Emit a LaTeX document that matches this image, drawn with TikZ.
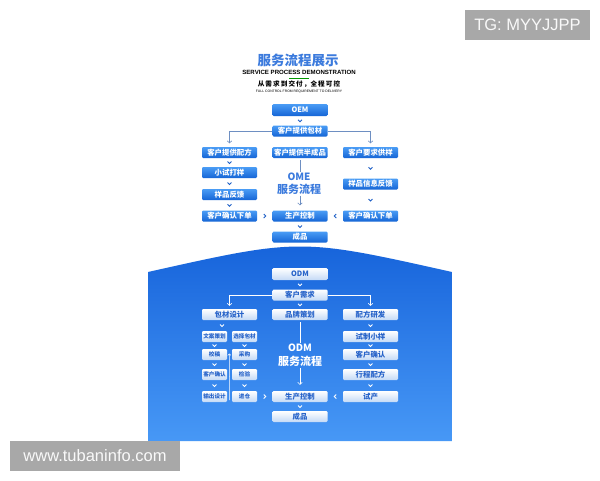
\documentclass[tikz,border=0pt]{standalone}
\usepackage{fontspec}
\setmainfont{Noto Sans CJK SC}
\newfontfamily\latfont{Liberation Sans}
\usetikzlibrary{calc,arrows.meta}
\definecolor{oTop}{HTML}{4A9CF5}
\definecolor{oBot}{HTML}{1565D6}
\definecolor{tLine}{HTML}{6E8FC2}
\definecolor{tChev}{HTML}{1D5FC6}
\definecolor{dBot}{HTML}{C4DAF6}
\definecolor{dTxt}{HTML}{2763C9}
\definecolor{bgTop}{HTML}{1562DA}
\definecolor{bgBot}{HTML}{4798F6}
\definecolor{ttl}{HTML}{3C7BDD}
\definecolor{wm}{HTML}{A8A8A8}
\newcommand\fs[1]{\fontsize{#1}{#1}\selectfont}
\tikzset{
  obox/.style={rounded corners=1.2pt, top color=oTop, bottom color=oBot, text=white,
    minimum width=55pt, minimum height=11pt, inner sep=0pt, font=\fs{7.4}\bfseries},
  dbox/.style={rounded corners=1.2pt, top color=white, bottom color=dBot, text=dTxt,
    minimum width=55pt, minimum height=11pt, inner sep=0pt, font=\fs{7.4}\bfseries},
  sbox/.style={dbox, minimum width=25pt, font=\fs{5.6}\bfseries},
  tline/.style={draw=tLine, line width=0.6pt},
  wline/.style={draw=white, line width=0.6pt},
  tip/.style={-{Straight Barb[length=2pt,width=4.5pt]}},
  chevd/.pic={\draw[pic actions, line width=0.8pt] (-2,-1) -- (0,1) -- (2,-1);},
  chevr/.pic={\draw[pic actions, line width=0.8pt] (-1,-2) -- (1,0) -- (-1,2);},
  chevl/.pic={\draw[pic actions, line width=0.8pt] (1,-2) -- (-1,0) -- (1,2);},
  wmbox/.style={fill=wm, text=white!95!gray, inner sep=0pt, font=\latfont\fs{16.5}},
}
\begin{document}
\begin{tikzpicture}[x=1pt,y=-1pt]
\useasboundingbox (0,0) rectangle (600,480);
\fill[white] (0,0) rectangle (600,480);

% ---------- title ----------
\node[font=\fs{13.5}\bfseries, text=ttl] (title) at (298,60) {服务流程展示};
\node[font=\latfont\bfseries\fs{6.1}] (sub1) at (299,72.5) {SERVICE PROCESS DEMONSTRATION};
\draw[draw=green!60!black, line width=0.8pt] ($(sub1.south)+(-10,0.5)$) coordinate (ga) -- ($(sub1.south)+(10,0.5)$) coordinate (gb);
\node[font=\fs{6.6}\bfseries] (sub2) at (299,84) {从\,需\,求\,到\,交\,付\,，全\,程\,可\,控};
\node[font=\latfont\fs{3.4}] (sub3) at (299,92) {FULL CONTROL FROM REQUIREMENT TO DELIVERY};

% ---------- OEM section ----------
\node[obox, minimum height=12pt] (oem) at (300,110) {OEM};
\node[obox] (bao) at (300,131) {客户提供包材};
\node[obox] (pfa) at (229.5,152.5) {客户提供配方};
\node[obox] (bcp) at (300,152.5) {客户提供半成品};
\node[obox] (gya) at (370.5,152.5) {客户要求供样};
\node[obox] (xsd) at (229.5,172.5) {小试打样};
\node[obox] (ypf) at (229.5,194.5) {样品反馈};
\node[obox] (ypx) at (370.5,184) {样品信息反馈};
\node[obox] (qrl) at (229.5,216) {客户确认下单};
\node[obox] (sca) at (300,216) {生产控制};
\node[obox] (qrr) at (370.5,216) {客户确认下单};
\node[obox] (cpa) at (300,237) {成品};

\node[font=\fs{10}\bfseries, text=ttl, inner sep=1pt] (omeA) at (299,177) {OME};
\node[font=\fs{11}\bfseries, text=ttl, inner sep=1pt] (omeB) at (299,189.5) {服务流程};

\draw[tline, tip, shorten >=3.5pt] (bao.west) -| (pfa.north);
\draw[tline, tip, shorten >=3.5pt] (bao.east) -| (gya.north);
\draw[tline] ($(bcp.south)+(0,2)$) -- (bcp.south |- omeA.north);
\draw[tline, tip, shorten >=5pt] (omeB.south -| sca.north) -- (sca.north);

\pic[draw=tChev] at ($(oem.south)!0.5!(bao.north)$) {chevd};
\pic[draw=tChev] at ($(pfa.south)!0.5!(xsd.north)$) {chevd};
\pic[draw=tChev] at ($(xsd.south)!0.5!(ypf.north)$) {chevd};
\pic[draw=tChev] at ($(ypf.south)!0.5!(qrl.north)$) {chevd};
\pic[draw=tChev] at ($(gya.south)!0.5!(ypx.north)$) {chevd};
\pic[draw=tChev] at ($(ypx.south)!0.5!(qrr.north)$) {chevd};
\pic[draw=tChev] at ($(sca.south)!0.5!(cpa.north)$) {chevd};
\pic[draw=tChev] at ($(qrl.east)!0.5!(sca.west)$) {chevr};
\pic[draw=tChev] at ($(qrr.west)!0.5!(sca.east)$) {chevl};

% ---------- ODM section ----------
\shade[top color=bgTop, bottom color=bgBot] (148,441) -- (148,272) .. controls (300,238) .. (452,272) -- (452,441) -- cycle;

\node[dbox, minimum height=12pt] (odm) at (300,274) {ODM};
\node[dbox] (xq) at (300,295) {客户需求};
\node[dbox] (bcs) at (229.5,314.5) {包材设计};
\node[dbox] (ppc) at (300,314.5) {品牌策划};
\node[dbox] (pfy) at (370.5,314.5) {配方研发};

\node[sbox] (wa) at (214.5,336.5) {文案策划};
\node[sbox] (jg) at (214.5,354.5) {校稿};
\node[sbox] (kq) at (214.5,374.5) {客户确认};
\node[sbox] (sc) at (214.5,396.5) {输出设计};
\node[sbox] (xz) at (244.5,336.5) {选择包材};
\node[sbox] (cg) at (244.5,354.5) {采购};
\node[sbox] (jy) at (244.5,374.5) {检验};
\node[sbox] (jc) at (244.5,396.5) {进仓};

\node[dbox] (szx) at (370.5,336.5) {试制小样};
\node[dbox] (khq) at (370.5,354.5) {客户确认};
\node[dbox] (xcp) at (370.5,374.5) {行程配方};
\node[dbox] (scp) at (370.5,396.5) {试产};
\node[dbox] (scb) at (300,396.5) {生产控制};
\node[dbox] (cpb) at (300,416.5) {成品};

\node[font=\fs{10}\bfseries, text=white, inner sep=1pt] (odmA) at (300,348) {ODM};
\node[font=\fs{11}\bfseries, text=white, inner sep=1pt] (odmB) at (300,361.5) {服务流程};

\draw[wline, tip, shorten >=3pt] (xq.west) -| (bcs.north);
\draw[wline, tip, shorten >=3pt] (xq.east) -| (pfy.north);
\draw[wline] ($(ppc.south)+(0,2)$) -- (odmA.north);
\draw[wline, tip, shorten >=6pt] (odmB.south) -- (scb.north);
\coordinate (vb) at ($(sc.east)+(2.5,3.5)$);
\coordinate (vt) at ($(cg.west)+(-2.5,-1)$);
\draw[wline, line width=0.5pt, -{Straight Barb[length=1.5pt,width=3pt]}] (vb) -- (vt);

\pic[draw=white] at ($(odm.south)!0.5!(xq.north)$) {chevd};
\pic[draw=white] at ($(xq.south)!0.5!(ppc.north)$) {chevd};
\pic[draw=white] at ($(bcs.south)!0.5!(wa.north)$) {chevd};
\pic[draw=white] at ($(wa.south)!0.5!(jg.north)$) {chevd};
\pic[draw=white] at ($(jg.south)!0.5!(kq.north)$) {chevd};
\pic[draw=white] at ($(kq.south)!0.5!(sc.north)$) {chevd};
\pic[draw=white] at ($(xz.south)!0.5!(cg.north)$) {chevd};
\pic[draw=white] at ($(cg.south)!0.5!(jy.north)$) {chevd};
\pic[draw=white] at ($(jy.south)!0.5!(jc.north)$) {chevd};
\pic[draw=white] at ($(pfy.south)!0.5!(szx.north)$) {chevd};
\pic[draw=white] at ($(szx.south)!0.5!(khq.north)$) {chevd};
\pic[draw=white] at ($(khq.south)!0.5!(xcp.north)$) {chevd};
\pic[draw=white] at ($(xcp.south)!0.5!(scp.north)$) {chevd};
\pic[draw=white] at ($(scb.south)!0.5!(cpb.north)$) {chevd};
\pic[draw=white] at ($(jc.east)!0.5!(scb.west)$) {chevr};
\pic[draw=white] at ($(scp.west)!0.5!(scb.east)$) {chevl};

% ---------- watermarks ----------
\node[wmbox, minimum width=125pt, minimum height=30pt] (tg) at (527.5,25) {TG: MYYJJPP};
\node[wmbox, minimum width=170pt, minimum height=30pt] (www) at (95,455.5) {www.tubaninfo.com};
\end{tikzpicture}
\end{document}
